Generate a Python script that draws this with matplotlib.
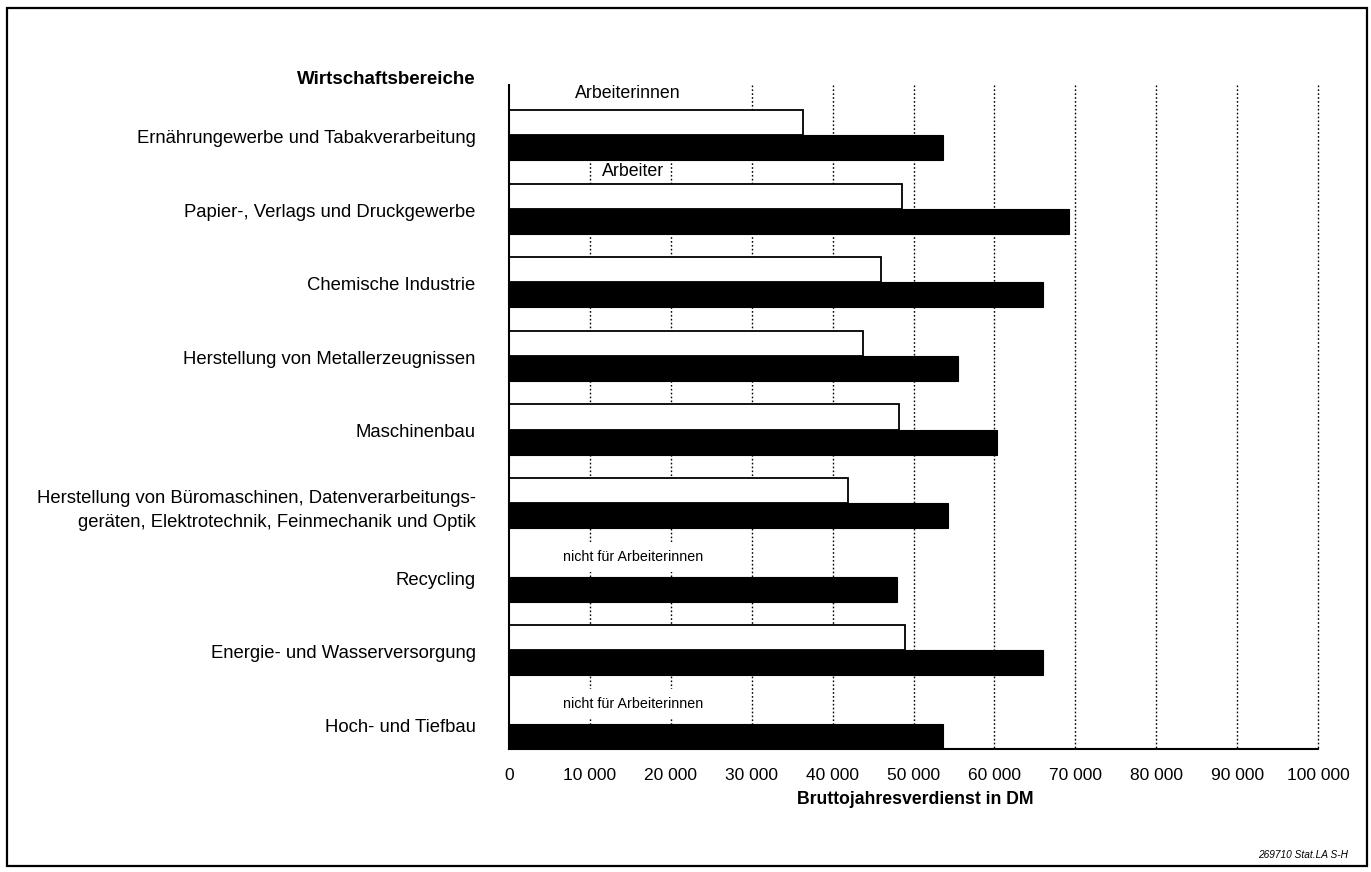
import matplotlib
matplotlib.use("Agg")
import matplotlib.pyplot as plt
from matplotlib.patches import Rectangle
import numpy as np

plt.rcParams['font.family'] = ['Liberation Sans', 'DejaVu Sans']

# Wirtschaftsbereiche (top to bottom)
bereiche = [
    "Ernährungewerbe und Tabakverarbeitung",
    "Papier-, Verlags und Druckgewerbe",
    "Chemische Industrie",
    "Herstellung von Metallerzeugnissen",
    "Maschinenbau",
    "Herstellung von Büromaschinen, Datenverarbeitungs-\ngeräten, Elektrotechnik, Feinmechanik und Optik",
    "Recycling",
    "Energie- und Wasserversorgung",
    "Hoch- und Tiefbau",
]
# Bruttojahresverdienst in DM (None = no figure for Arbeiterinnen)
arbeiterinnen = [36400, 48600, 46000, 43800, 48200, 41900, None, 48900, None]
arbeiter = [53600, 69200, 66000, 55500, 60300, 54300, 48000, 66000, 53600]

x_ticks = list(range(0, 100001, 10000))
x_ticklabels = ["0"] + [f"{v // 1000} 000" for v in x_ticks[1:]]

fig = plt.figure(figsize=(13.71, 8.72), dpi=100)
ax = fig.add_axes([509 / 1371, 1 - 749 / 872, (1318 - 509) / 1371, (749 - 85) / 872])

pos = np.arange(len(bereiche))
h = 0.34

# dotted vertical grid behind the bars
ax.vlines(x_ticks[1:], -0.85, 8.17, colors="black", linestyles=(0, (1.2, 1.6)),
          linewidth=1.0, zorder=0, clip_on=False)

for i, (w, m) in enumerate(zip(arbeiterinnen, arbeiter)):
    if w is not None:
        ax.barh(pos[i] - h, w, height=h, color="white", edgecolor="black",
                linewidth=1.3, zorder=2)
    ax.barh(pos[i], m, height=h, color="black", edgecolor="black",
            linewidth=0.8, zorder=2)

ax.set_xlim(0, 100000)
ax.set_ylim(8.17, -0.85)

ax.set_xticks(x_ticks)
ax.set_xticklabels(x_ticklabels, fontsize=12.5)
ax.set_yticks(pos - 0.15)
ax.set_yticklabels(bereiche, fontsize=13.3, ha="right", linespacing=1.55)
ax.tick_params(axis="x", length=0, pad=14)
ax.tick_params(axis="y", length=0, pad=24)

for side in ("top", "right"):
    ax.spines[side].set_visible(False)
ax.spines["left"].set_linewidth(1.5)
ax.spines["bottom"].set_linewidth(1.5)

# in-chart annotations
ax.text(14700, -0.74, "Arbeiterinnen", fontsize=12.8, ha="center", va="center", zorder=1,
        bbox=dict(facecolor="white", edgecolor="none", boxstyle="square,pad=0.6"))
ax.text(15300, 0.33, "Arbeiter", fontsize=12.8, ha="center", va="center", zorder=3)
for yy in (5.56, 7.56):
    ax.text(15300, yy, "nicht für Arbeiterinnen", fontsize=10.3, ha="center",
            va="center", zorder=3,
            bbox=dict(facecolor="white", edgecolor="none", pad=6))

fig.text(476 / 1371, 1 - 80 / 872, "Wirtschaftsbereiche", fontsize=13.5,
         fontweight="bold", ha="right", va="center")
fig.text(915 / 1371, 1 - 799 / 872, "Bruttojahresverdienst in DM", fontsize=12.7,
         fontweight="bold", ha="center", va="center")
fig.text(1348 / 1371, 1 - 855 / 872, "269710 Stat.LA S-H", fontsize=7.3,
         style="italic", ha="right", va="center")

# outer frame
fig.patches.append(Rectangle((7 / 1371, 1 - 866 / 872), (1367 - 7) / 1371, (866 - 8) / 872,
                             transform=fig.transFigure, fill=False,
                             edgecolor="black", linewidth=1.6))

fig.savefig("out.png", dpi=100)
